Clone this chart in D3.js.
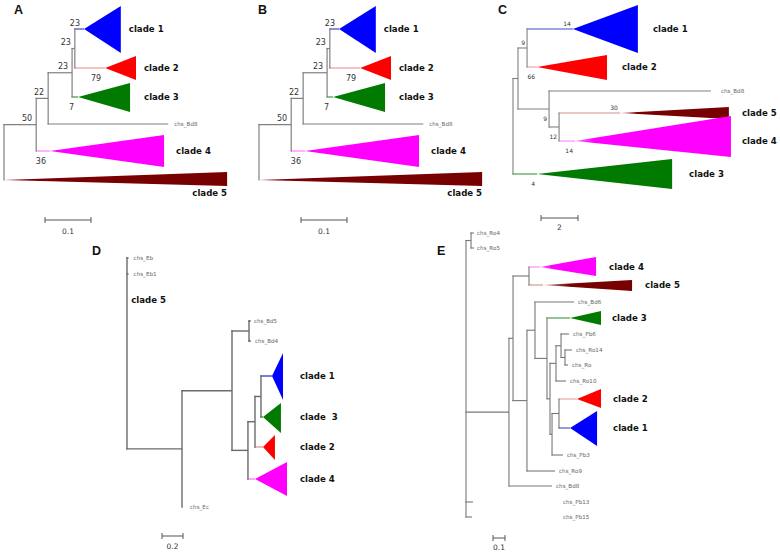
<!DOCTYPE html>
<html><head><meta charset="utf-8">
<script src="https://cdn.jsdelivr.net/npm/d3@7"></script>
<style>body{margin:0;background:#fff}svg{display:block}</style>
</head><body>
<svg id="chart" width="780" height="554"></svg>
<script>
// ================= DATA =================
// Panels A and B (same topology): [id, parent, cumulative branch length]
const abNodes = [
  ["root", null, 0],
  ["n50", "root", 0.070],
  ["n22", "n50", 0.096],
  ["n23a", "n22", 0.148],
  ["n23b", "n23a", 0.154],
  ["clade1", "n23b", 0.174],
  ["clade2", "n23b", 0.220],
  ["clade3", "n23a", 0.161],
  ["chs_Bd8", "n22", 0.357],
  ["clade4", "n50", 0.100],
  ["clade5", "root", 0.000]
];
// leaf order (row units)
const abRows = {clade1: 0, clade2: 3.9, clade3: 6.8, chs_Bd8: 9.5, clade4: 12.2, clade5: 15.1};
// collapsed clades: [id, label, depth span, rows above, rows below]
const abClades = [
  ["clade1", "clade 1", 0.080, 2.3, 2.4],
  ["clade2", "clade 2", 0.067, 1.2, 1.2],
  ["clade3", "clade 3", 0.113, 1.4, 1.5],
  ["clade4", "clade 4", 0.248, 1.6, 1.6],
  ["clade5", "clade 5", 0.485, 0.8, 0.6]
];
// bootstrap values: [node, value, side]
const abSupport = [
  ["n50", "50", "above"], ["n22", "22", "above"], ["n23a", "23", "above"],
  ["n23b", "23", "above"], ["clade1", "23", "above"], ["clade2", "79", "below"],
  ["clade3", "7", "below"], ["clade4", "36", "below"]
];

// Panel C
const cNodes = [
  ["root", null, 0],
  ["nA", "root", 0.27],
  ["nB", "nA", 0.76],
  ["clade1", "nB", 3.24],
  ["clade2", "nB", 1.30],
  ["nC", "nA", 1.95],
  ["chs_Bd8", "nC", 10.70],
  ["nD", "nC", 2.49],
  ["clade5", "nD", 5.78],
  ["clade4", "nD", 3.35],
  ["clade3", "root", 1.30]
];
const cRows = {clade1: 0, clade2: 3.8, chs_Bd8: 6.2, clade5: 8.4, clade4: 11.2, clade3: 14.5};
const cClades = [
  ["clade1", "clade 1", 3.51, 2.4, 2.4],
  ["clade2", "clade 2", 3.78, 1.2, 1.3],
  ["clade5", "clade 5", 5.89, 0.6, 0.6],
  ["clade4", "clade 4", 8.43, 2.5, 1.6],
  ["clade3", "clade 3", 7.30, 1.5, 1.5]
];
const cSupport = [
  ["clade1", "14", "above"], ["nB", "9", "above"], ["clade2", "66", "below"],
  ["nC", "9", "below"], ["nD", "12", "below"], ["clade5", "30", "above"],
  ["clade4", "14", "below"], ["clade3", "4", "below"]
];

// Panel D
const dNodes = [
  ["root", null, 0],
  ["chs_Eb", "root", 0.015],
  ["chs_Eb1", "root", 0.015],
  ["nE", "root", 0.524],
  ["nF", "nE", 1.000],
  ["nG", "nF", 1.162],
  ["chs_Bd5", "nG", 1.180],
  ["chs_Bd4", "nG", 1.180],
  ["nH", "nF", 1.152],
  ["nI", "nH", 1.219],
  ["nJ", "nI", 1.276],
  ["clade1", "nJ", 1.381],
  ["clade3", "nJ", 1.295],
  ["clade2", "nI", 1.295],
  ["clade4", "nH", 1.219],
  ["chs_Ec", "nE", 0.524]
];
const dRows = {chs_Eb: 0, chs_Eb1: 1.6, chs_Bd5: 6.3, chs_Bd4: 8.3, clade1: 11.8,
               clade3: 15.9, clade2: 18.9, clade4: 22.1, chs_Ec: 24.9};
const dClades = [
  ["clade1", "clade 1", 0.105, 2.3, 2.4],
  ["clade3", "clade  3", 0.171, 1.4, 1.6],
  ["clade2", "clade 2", 0.114, 1.2, 1.3],
  ["clade4", "clade 4", 0.305, 1.7, 1.7]
];
const dExtra = [["clade 5", 0.04, 4.2]];

// Panel E
const eNodes = [
  ["root", null, 0],
  ["nN", "root", 0.042],
  ["chs_Ro4", "nN", 0.067],
  ["chs_Ro5", "nN", 0.067],
  ["n509", "root", 0.358],
  ["n513", "n509", 0.392],
  ["n529", "n513", 0.525],
  ["clade4", "n529", 0.617],
  ["clade5", "n529", 0.642],
  ["n527", "n513", 0.508],
  ["n535", "n527", 0.575],
  ["chs_Bd6", "n535", 0.900],
  ["nG", "n535", 0.675],
  ["clade3", "nG", 0.867],
  ["nH", "nG", 0.700],
  ["nI", "nH", 0.750],
  ["nL", "nI", 0.792],
  ["chs_Pb6", "nL", 0.858],
  ["nM", "nL", 0.825],
  ["chs_Ro14", "nM", 0.883],
  ["chs_Ro", "nM", 0.850],
  ["chs_Ro10", "nI", 0.833],
  ["nK", "nH", 0.717],
  ["nJ", "nK", 0.775],
  ["clade2", "nJ", 0.925],
  ["clade1", "nJ", 0.867],
  ["chs_Pb3", "nK", 0.808],
  ["chs_Ro9", "n527", 0.742],
  ["chs_Bd8", "n509", 0.717],
  ["chs_Pb13", "root", 0.058],
  ["chs_Pb15", "root", 0.050]
];
const eRows = {chs_Ro4: 0, chs_Ro5: 1.5, clade4: 3.4, clade5: 5.2, chs_Bd6: 6.9, clade3: 8.5,
  chs_Pb6: 10.1, chs_Ro14: 11.7, chs_Ro: 13.2, chs_Ro10: 14.8, clade2: 16.6, clade1: 19.5,
  chs_Pb3: 22.2, chs_Ro9: 23.8, chs_Bd8: 25.3, chs_Pb13: 26.9, chs_Pb15: 28.4};
const eClades = [
  ["clade4", "clade 4", 0.467, 1.0, 0.9],
  ["clade5", "clade 5", 0.742, 0.5, 0.6],
  ["clade3", "clade 3", 0.258, 0.7, 0.7],
  ["clade2", "clade 2", 0.200, 1.0, 0.9],
  ["clade1", "clade 1", 0.225, 1.7, 1.8]
];

// ================= STYLE =================
const cladeFill = {clade1: "#0000ff", clade2: "#ff0000", clade3: "#007a00", clade4: "#ff00ff", clade5: "#770000"};
const cladeLine = {clade1: "#4444cc", clade2: "#f09a9a", clade3: "#3a9a3a", clade4: "#ff80ff", clade5: "#d09090"};

const svg = d3.select("#chart");
svg.append("rect").attr("width", 780).attr("height", 554).attr("fill", "#fff");
const defs = svg.append("defs");
let gradId = 0;

function drawPanel(cfg) {
  const g = svg.append("g");
  const x = d3.scaleLinear().domain([0, cfg.unit]).range([cfg.x0, cfg.x0 + cfg.unitPx]);
  const y = d3.scaleLinear().domain([0, 1]).range([cfg.y0, cfg.y0 + cfg.rowPx]);
  const map = new Map(cfg.nodes.map(([id, p, d]) => [id, {id, parent: p, depth: d, children: []}]));
  map.forEach(n => { if (n.parent) map.get(n.parent).children.push(n); });
  const rowOf = n => {
    if (!n.children.length) return (n.row = cfg.rows[n.id]);
    const rs = n.children.map(rowOf);
    return (n.row = (d3.min(rs) + d3.max(rs)) / 2);
  };
  rowOf(map.get("root"));
  const cladeSet = new Map(cfg.clades.map(c => [c[0], c]));
  const all = Array.from(map.values());
  const lw = cfg.lw, grey = cfg.grey;
  // horizontal branches
  g.selectAll(null).data(all.filter(n => n.parent && n.depth > map.get(n.parent).depth)).join("line")
    .attr("x1", n => x(map.get(n.parent).depth) - lw / 2).attr("x2", n => x(n.depth))
    .attr("y1", n => y(n.row)).attr("y2", n => y(n.row))
    .attr("stroke", n => cladeSet.has(n.id) ? cladeLine[n.id] : grey).attr("stroke-width", lw);
  // vertical connectors
  g.selectAll(null).data(all.filter(n => n.children.length)).join("line")
    .attr("x1", n => x(n.depth)).attr("x2", n => x(n.depth))
    .attr("y1", n => y(d3.min(n.children, c => c.row)) - lw / 2)
    .attr("y2", n => y(d3.max(n.children, c => c.row)) + lw / 2)
    .attr("stroke", grey).attr("stroke-width", lw);
  // collapsed clade triangles
  cfg.clades.forEach(([id, label, len, up, down]) => {
    const n = map.get(id);
    const ax = x(n.depth), ay = y(n.row), rx = x(n.depth + len);
    const gid = "gr" + (gradId++);
    const lg = defs.append("linearGradient").attr("id", gid).attr("gradientUnits", "userSpaceOnUse")
      .attr("x1", ax).attr("x2", rx).attr("y1", 0).attr("y2", 0);
    const fade = (cfg.fade && cfg.fade[id]) || 0;
    lg.append("stop").attr("offset", 0).attr("stop-color", fade ? cladeLine[id] : cladeFill[id]);
    lg.append("stop").attr("offset", fade || 0.01).attr("stop-color", cladeFill[id]);
    lg.append("stop").attr("offset", 1).attr("stop-color", cladeFill[id]);
    g.append("path")
      .attr("d", `M${ax},${ay}L${rx},${y(n.row - up)}L${rx},${y(n.row + down)}Z`)
      .attr("fill", `url(#${gid})`);
    const ldx = (cfg.cladeDx && cfg.cladeDx[id] != null) ? cfg.cladeDx[id] : 12;
    let tx = cfg.cladeX != null ? cfg.cladeX : rx + ldx;
    let ty = ay + 3;
    const t = g.append("text").attr("font-family", "DejaVu Sans").attr("font-weight", "bold")
      .attr("font-size", 8.6).attr("fill", "#111").style("white-space", "pre").text(label);
    if (cfg.below && cfg.below[id]) { tx = rx; ty = y(n.row + down) + 10; t.attr("text-anchor", "end"); }
    t.attr("x", tx).attr("y", ty);
  });
  // leaf labels
  all.filter(n => !n.children.length && !cladeSet.has(n.id)).forEach(n => {
    const lx = (cfg.leafAt && cfg.leafAt[n.id] != null) ? x(cfg.leafAt[n.id]) :
      x(n.depth) + ((cfg.leafDx && cfg.leafDx[n.id] != null) ? cfg.leafDx[n.id] : (cfg.leafDxAll || 4));
    g.append("text").attr("x", lx).attr("y", y(n.row) + 2)
      .attr("font-family", "DejaVu Sans").attr("font-size", 5.6).attr("fill", "#666").text(n.id);
  });
  // support values
  (cfg.support || []).forEach(([id, v, side]) => {
    const n = map.get(id);
    g.append("text").attr("x", x(n.depth) + cfg.sDx)
      .attr("y", y(n.row) + (side === "above" ? cfg.sAbove : cfg.sBelow))
      .attr("text-anchor", "end").attr("font-family", "DejaVu Sans")
      .attr("font-size", cfg.sSize).attr("fill", "#333").text(v);
  });
  // extra bold labels
  (cfg.extra || []).forEach(([txt, d, r]) => {
    g.append("text").attr("x", x(d)).attr("y", y(r) + 3).attr("font-family", "DejaVu Sans")
      .attr("font-weight", "bold").attr("font-size", 8.6).attr("fill", "#111").text(txt);
  });
  // scale bar
  const sb = cfg.scaleBar, len = x(cfg.unit) - x(0);
  const sg = g.append("g").attr("stroke", "#555").attr("stroke-width", 1);
  sg.append("line").attr("x1", sb.x).attr("x2", sb.x + len).attr("y1", sb.y).attr("y2", sb.y);
  sg.append("line").attr("x1", sb.x).attr("x2", sb.x).attr("y1", sb.y - 3).attr("y2", sb.y + 3);
  sg.append("line").attr("x1", sb.x + len).attr("x2", sb.x + len).attr("y1", sb.y - 3).attr("y2", sb.y + 3);
  g.append("text").attr("x", sb.x + len / 2).attr("y", sb.y + sb.ty).attr("text-anchor", "middle")
    .attr("font-family", "DejaVu Sans").attr("font-size", 7.5).attr("fill", "#333").text(cfg.unitLabel);
  // panel letter
  g.append("text").attr("x", cfg.letter[1]).attr("y", cfg.letter[2]).attr("font-family", "Liberation Sans")
    .attr("font-weight", "bold").attr("font-size", 12.5).attr("fill", "#111").text(cfg.letter[0]);
}

const abLayout = {
  nodes: abNodes, rows: abRows, clades: abClades, support: abSupport,
  unit: 0.1, unitLabel: "0.1", unitPx: 46, y0: 29, rowPx: 10, lw: 1.2, grey: "#808080",
  cladeDx: {clade1: 8, clade2: 8, clade3: 14, clade4: 12}, below: {clade5: true},
  leafDxAll: 6, sDx: -4, sAbove: -3.5, sBelow: 13, sSize: 8
};
drawPanel(Object.assign({}, abLayout, {x0: 4, scaleBar: {x: 45, y: 220, ty: 14}, letter: ["A", 14, 14]}));
drawPanel(Object.assign({}, abLayout, {x0: 259, scaleBar: {x: 301, y: 220, ty: 14}, letter: ["B", 258, 14]}));

drawPanel({
  nodes: cNodes, rows: cRows, clades: cClades, support: cSupport,
  unit: 2, unitLabel: "2", unitPx: 37, x0: 513, y0: 29, rowPx: 10, lw: 1.1, grey: "#808080",
  cladeDx: {clade1: 15, clade2: 15, clade5: 13, clade4: 11, clade3: 17},
  fade: {clade4: 0.12, clade5: 0.15},
  leafDxAll: 10, sDx: -2, sAbove: -3, sBelow: 12, sSize: 6,
  scaleBar: {x: 541, y: 218, ty: 12}, letter: ["C", 498, 14]
});

drawPanel({
  nodes: dNodes, rows: dRows, clades: dClades, extra: dExtra,
  unit: 0.2, unitLabel: "0.2", unitPx: 21, x0: 127, y0: 258, rowPx: 10, lw: 1.4, grey: "#6a6a6a",
  cladeX: 300, leafDxAll: 4, leafDx: {chs_Eb: 5, chs_Eb1: 5, chs_Ec: 8, chs_Bd5: 3, chs_Bd4: 4},
  sDx: 0, sAbove: 0, sBelow: 0, sSize: 6,
  scaleBar: {x: 162, y: 536, ty: 13}, letter: ["D", 92, 255]
});

drawPanel({
  nodes: eNodes, rows: eRows, clades: eClades,
  unit: 0.1, unitLabel: "0.1", unitPx: 12, x0: 466, y0: 233, rowPx: 10, lw: 1.1, grey: "#777",
  cladeDx: {clade4: 13, clade5: 13, clade3: 11, clade2: 12, clade1: 16},
  fade: {clade4: 0.2, clade5: 0.3},
  leafDxAll: 4, leafDx: {chs_Ro4: 3, chs_Ro5: 3}, leafAt: {chs_Pb13: 0.808, chs_Pb15: 0.808},
  sDx: 0, sAbove: 0, sBelow: 0, sSize: 6,
  scaleBar: {x: 493, y: 538, ty: 12}, letter: ["E", 437, 255]
});
</script>
</body></html>
